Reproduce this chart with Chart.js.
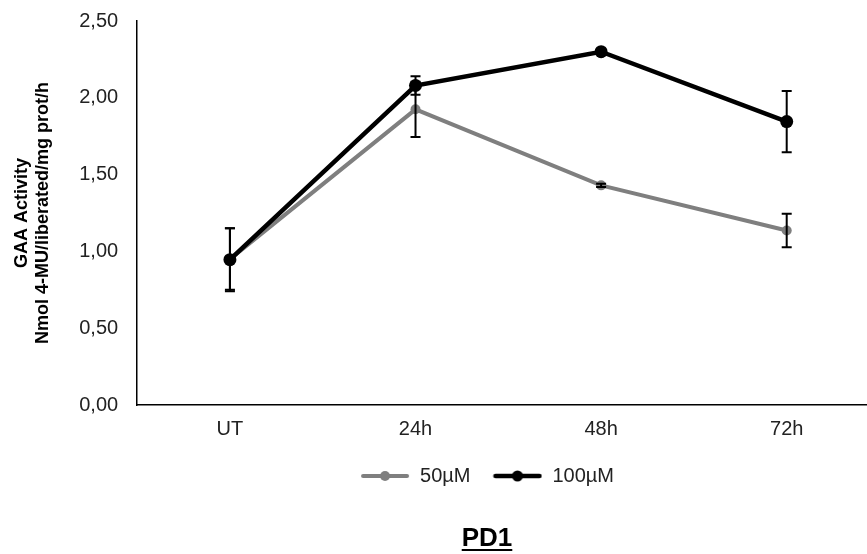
<!DOCTYPE html>
<html>
<head>
<meta charset="utf-8">
<script src="https://cdn.jsdelivr.net/npm/chart.js@4"></script>
<style>
  html, body { margin: 0; padding: 0; background: #fff; overflow: hidden; }
  #wrap { position: relative; width: 886px; height: 554px; }
  #title {
    position: absolute; left: 487px; top: 522px; transform: translateX(-50%);
    font-family: "Liberation Sans", Arial, sans-serif; font-weight: bold; font-size: 26px;
    text-decoration: underline; text-underline-offset: 3px; color: #000; white-space: nowrap;
  }
</style>
</head>
<body>
<div id="wrap">
  <canvas id="myChart" width="886" height="554"></canvas>
  <div id="title">PD1</div>
</div>
<script>
// categorias y valores
const labels = ['UT', '24h', '48h', '72h'];
const yTicks = [0, 0.5, 1, 1.5, 2, 2.5];
const series50 = [0.95, 1.925, 1.43, 1.136];
const err50 = [0.20, 0.18, 0.01, 0.109];
const series100 = [0.946, 2.08, 2.30, 1.845];
const err100 = [0.205, 0.06, 0.01, 0.20];

const FONT = '"Liberation Sans", Arial, sans-serif';

// muestra de leyenda: linea con punto
function legendSample(color, lw, r) {
  const c = document.createElement('canvas');
  c.width = 50; c.height = 14;
  const g = c.getContext('2d');
  g.strokeStyle = color; g.lineWidth = lw; g.lineCap = 'round';
  g.beginPath(); g.moveTo(3, 7); g.lineTo(47, 7); g.stroke();
  g.fillStyle = color;
  g.beginPath(); g.arc(25, 7, r, 0, Math.PI * 2); g.fill();
  return c;
}
const samples = [legendSample('#7f7f7f', 4, 5), legendSample('#000', 4.5, 5.5)];

// barras de error
const errorBars = {
  id: 'errorBars',
  afterDatasetDraw(chart, args) {
    const ds = chart.data.datasets[args.index];
    if (!ds.errors) return;
    const y = chart.scales.y;
    const ctx = chart.ctx;
    ctx.save();
    ctx.strokeStyle = '#000';
    ctx.lineWidth = 2;
    args.meta.data.forEach((pt, i) => {
      const e = ds.errors[i];
      if (!e) return;
      const v = ds.data[i];
      const top = y.getPixelForValue(v + e);
      const bot = y.getPixelForValue(v - e);
      ctx.beginPath();
      ctx.moveTo(pt.x, top); ctx.lineTo(pt.x, bot);
      ctx.moveTo(pt.x - 5, top); ctx.lineTo(pt.x + 5, top);
      ctx.moveTo(pt.x - 5, bot); ctx.lineTo(pt.x + 5, bot);
      ctx.stroke();
    });
    ctx.restore();
  }
};

// mover la leyenda al centro de la figura
const legendShift = {
  id: 'legendShift',
  afterLayout(chart) {
    const lg = chart.legend;
    if (!lg) return;
    const dx = 487 - (lg.left + lg.right) / 2;
    lg.left += dx;
    lg.right += dx;
    lg.top -= 9;
    lg.bottom -= 9;
  }
};

const ctx = document.getElementById('myChart').getContext('2d');

const chart = new Chart(ctx, {
  type: 'line',
  data: {
    labels: labels,
    datasets: [{
      label: '50µM',
      data: series50,
      errors: err50,
      borderColor: '#7f7f7f',
      backgroundColor: '#7f7f7f',
      borderWidth: 4,
      pointRadius: 5,
      pointBorderWidth: 0,
      order: 1
    }, {
      label: '100µM',
      data: series100,
      errors: err100,
      borderColor: '#000',
      backgroundColor: '#000',
      borderWidth: 4.5,
      pointRadius: 6.5,
      pointBorderWidth: 0,
      order: 0
    }]
  },
  options: {
    responsive: false,
    animation: false,
    layout: { padding: { left: 8, top: 21, right: 0, bottom: 49 } },
    plugins: {
      tooltip: { enabled: false },
      legend: {
        position: 'bottom',
        labels: {
          usePointStyle: true,
          pointStyleWidth: 50,
          padding: 22,
          color: '#222',
          font: { family: FONT, size: 20 },
          sort: (a, b) => a.datasetIndex - b.datasetIndex,
          generateLabels(chart) {
            const items = Chart.defaults.plugins.legend.labels.generateLabels(chart);
            items.forEach(it => { it.pointStyle = samples[it.datasetIndex]; });
            return items;
          }
        }
      }
    },
    scales: {
      x: {
        offset: true,
        grid: { display: false, drawTicks: false },
        border: { display: true, color: '#000', width: 1.5 },
        ticks: { color: '#222', padding: 12, font: { family: FONT, size: 20 } }
      },
      y: {
        min: 0,
        max: 2.5,
        afterBuildTicks(scale) { scale.ticks = yTicks.map(v => ({ value: v })); },
        grid: {
          display: true,
          drawOnChartArea: false,
          drawTicks: true,
          tickLength: 19,
          tickColor: 'rgba(0,0,0,0)',
          color: 'rgba(0,0,0,0)'
        },
        border: { display: true, color: '#000', width: 1.5 },
        ticks: {
          color: '#222',
          padding: 0,
          font: { family: FONT, size: 20 },
          callback: v => v.toFixed(2).replace('.', ',')
        },
        title: {
          display: true,
          text: ['GAA Activity', 'Nmol 4-MU/liberated/mg prot/h'],
          color: '#000',
          font: { family: FONT, size: 18, weight: 'bold' },
          padding: { top: 3, bottom: 25 }
        }
      }
    }
  },
  plugins: [errorBars, legendShift]
});
</script>
</body>
</html>
